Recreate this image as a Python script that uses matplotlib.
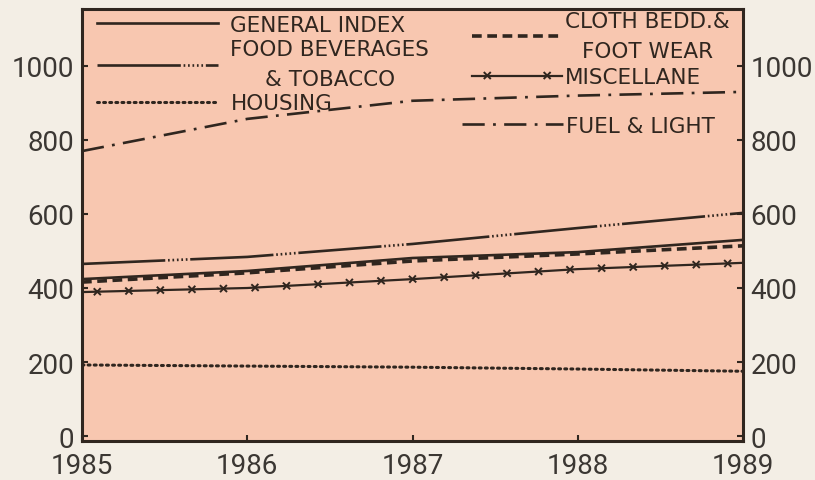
import matplotlib
matplotlib.use('Agg')
import matplotlib.pyplot as plt
import matplotlib.patheffects as pe

# ---- data ----
years = [1985, 1986, 1987, 1988, 1989]
general_index = [424, 446, 481, 497, 530]
food_bev_tobacco = [465, 484, 519, 562, 603]
housing = [192, 189, 186, 181, 175]
cloth_bedd_footwear = [416, 441, 473, 492, 514]
miscellaneous = [389, 400, 424, 451, 468]
fuel_light = [770, 857, 906, 920, 930]

yticks = [0, 200, 400, 600, 800, 1000]
xtick_labels = ['1985', '1986', '1987', '1988', '1989']

left_labels = ['GENERAL INDEX', 'FOOD BEVERAGES\n& TOBACCO', 'HOUSING']
right_labels = ['CLOTH BEDD.&\nFOOT WEAR', 'MISCELLANE']
fuel_label = ['FUEL & LIGHT']

plt.rcParams['font.family'] = ['DejaVu Sans']
plt.rcParams['lines.scale_dashes'] = False

ink = '#30261f'
label_ink = '#3b3733'

fig = plt.figure(figsize=(8.15, 4.81), dpi=100, facecolor='#f3eee5')
ax = fig.add_axes([82 / 815, 1 - 442 / 481, (743 - 82) / 815, (442 - 10) / 481])
ax.set_facecolor('#f8c7b0')

l_gen, = ax.plot(years, general_index, color=ink, lw=1.9, ls='-')
l_food, = ax.plot(years, food_bev_tobacco, color=ink, lw=1.9,
                  ls=(0, (60, 2, 1.2, 2, 1.2, 2, 1.2, 2, 1.2, 2, 1.2, 2)))
l_house, = ax.plot(years, housing, color=ink, lw=2.2, ls=(0, (1.4, 3)),
                   dash_capstyle='round')
l_cloth, = ax.plot(years, cloth_bedd_footwear, color=ink, lw=2.6, ls=(0, (7, 4)))
x_fx = [pe.Normal()] + [pe.TickedStroke(spacing=22, angle=a, length=0.13, linewidth=1.4)
                        for a in (45, 135, -45, -135)]
l_misc, = ax.plot(years, miscellaneous, color=ink, lw=1.6, path_effects=x_fx)
l_fuel, = ax.plot(years, fuel_light, color=ink, lw=1.9, ls=(0, (16, 6, 2, 6)))

ax.set_xlim(years[0], years[-1])
ax.set_ylim(-13.5, 1154)
ax.set_xticks(years)
ax.set_xticklabels(xtick_labels)
ax.set_yticks(yticks)

ax.tick_params(axis='both', direction='in', length=4, width=1.5, colors=ink,
               labelsize=20, labelcolor=label_ink)
ax.tick_params(axis='y', left=True, right=True, labelleft=True, labelright=True, pad=5.5)
ax.tick_params(axis='x', pad=8)
for lbl in ax.get_xticklabels() + ax.get_yticklabels():
    lbl.set_family(['Roboto', 'DejaVu Sans'])
for tk in ax.yaxis.get_major_ticks():
    tk.label2.set_family(['Roboto', 'DejaVu Sans'])
for s in ax.spines.values():
    s.set_linewidth(2.2)
    s.set_color(ink)

fs = 15.5
common = dict(loc='upper left', frameon=False, fontsize=fs,
              borderpad=0, borderaxespad=0, labelcolor=ink)


def centre_lines(leg):
    for t in leg.get_texts():
        t.set_multialignment('center')
        t.set_linespacing(1.6)


leg1 = ax.legend([l_gen, l_food, l_house], left_labels,
                 bbox_to_anchor=((97 - 82) / 661, 1 - 6 / 432),
                 handlelength=5.6, handletextpad=0.6, labelspacing=0.2, **common)
centre_lines(leg1)
ax.add_artist(leg1)
leg2 = ax.legend([l_cloth, l_misc], right_labels,
                 bbox_to_anchor=((472 - 82) / 661, 1 - 2 / 432),
                 handlelength=4.2, handletextpad=0.12, labelspacing=0.3, **common)
centre_lines(leg2)
ax.add_artist(leg2)
leg3 = ax.legend([l_fuel], fuel_label,
                 bbox_to_anchor=((462 - 82) / 661, 1 - 107 / 432),
                 handlelength=4.7, handletextpad=0.12, **common)
centre_lines(leg3)

fig.savefig('out.png', dpi=100, facecolor=fig.get_facecolor())
